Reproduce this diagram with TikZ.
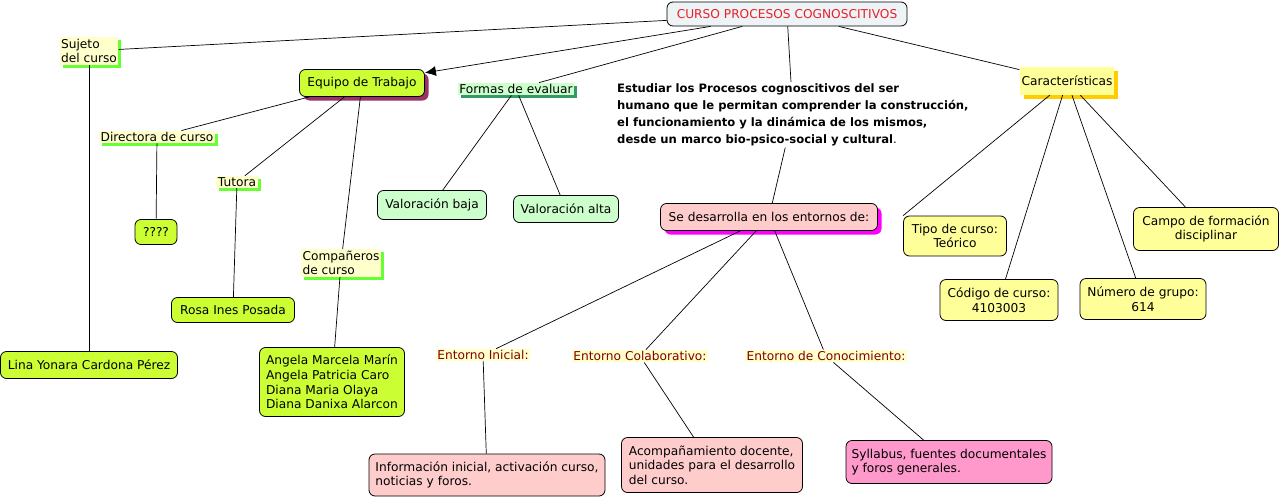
\documentclass[tikz,border=0pt]{standalone}
\usepackage{fontspec}
\setmainfont{DejaVu Sans}
\usetikzlibrary{shadows,arrows.meta}
\definecolor{lime}{HTML}{CCFF33}
\definecolor{lblfill}{HTML}{FFFFCC}
\definecolor{lgreen}{HTML}{66FF33}
\definecolor{eqshadow}{HTML}{993366}
\definecolor{palegreen}{HTML}{CCFFCC}
\definecolor{dkgreen}{HTML}{339966}
\definecolor{cursofill}{HTML}{EEF3F6}
\definecolor{cursotext}{HTML}{E8202A}
\definecolor{yel}{HTML}{FFFF99}
\definecolor{gold}{HTML}{FFCC00}
\definecolor{pink}{HTML}{FFCCCC}
\definecolor{magen}{HTML}{FF00FF}
\definecolor{hotpink}{HTML}{FF99CC}
\definecolor{brown}{HTML}{800000}
\tikzset{
  base/.style={font=\fontsize{12.2}{14.6}\selectfont, text=black},
  concept/.style={base, draw=black, line width=0.8pt, rounded corners=6pt, inner sep=3pt, align=center},
  lbl/.style={base, fill=lblfill, inner sep=1.5pt, align=left},
  gshadow/.style={drop shadow={shadow xshift=3pt, shadow yshift=-3pt, fill=lgreen, opacity=1}},
  elbl/.style={base, fill=lblfill, text=brown, inner sep=1.5pt},
  conn/.style={draw=black, line width=0.7pt},
}
\begin{document}
\begin{tikzpicture}[x=1pt,y=-1pt]
\useasboundingbox (0,0) rectangle (1282,498);
\fill[white] (0,0) rectangle (1282,498);
% nodes
\node[concept, fill=cursofill, text=cursotext, minimum width=240pt, minimum height=24pt] (curso) at (787,14) {CURSO PROCESOS COGNOSCITIVOS};
\node[lbl, gshadow] (sujeto) at (89,51) {Sujeto\\del curso};
\node[concept, fill=lime, minimum width=125pt, minimum height=27pt,
  drop shadow={shadow xshift=4pt, shadow yshift=-4pt, fill=eqshadow, opacity=1}] (equipo) at (362,83) {Equipo de Trabajo};
\node[lbl, fill=palegreen, drop shadow={shadow xshift=3pt, shadow yshift=-3pt, fill=dkgreen, opacity=1}] (formas) at (516,89) {Formas de evaluar};
\node[base, anchor=north west, align=left, inner sep=1pt, font=\fontsize{11.6}{17.3}\selectfont\bfseries] (estudiar) at (616,82)
  {Estudiar los Procesos cognoscitivos del ser\\humano que le permitan comprender la construcción,\\el funcionamiento y la dinámica de los mismos,\\desde un marco bio-psico-social y cultural{\mdseries.}};
\node[base, fill=yel, minimum width=91pt, minimum height=28pt, inner sep=2pt,
  drop shadow={shadow xshift=4pt, shadow yshift=-4pt, fill=gold, opacity=1}] (car) at (1067,81) {Características};
\node[lbl, gshadow] (directora) at (157,137) {Directora de curso};
\node[lbl, gshadow] (tutora) at (237,182) {Tutora};
\node[concept, fill=lime, minimum width=42pt, minimum height=25pt] (q) at (156,232) {????};
\node[concept, fill=palegreen, minimum width=109pt, minimum height=29pt] (valbaja) at (432,205) {Valoración baja};
\node[concept, fill=palegreen, minimum width=105pt, minimum height=27pt] (valalta) at (566,209) {Valoración alta};
\node[concept, fill=pink, minimum width=217pt, minimum height=27pt,
  drop shadow={shadow xshift=4pt, shadow yshift=-4pt, fill=magen, opacity=1}] (se) at (769,217) {Se desarrolla en los entornos de:};
\node[concept, fill=yel, minimum width=103pt, minimum height=40pt] (tipo) at (955,236) {Tipo de curso:\\Teórico};
\node[concept, fill=yel, minimum width=145pt, minimum height=43pt] (campo) at (1206,229) {Campo de formación\\disciplinar};
\node[concept, fill=yel, minimum width=118pt, minimum height=41pt] (codigo) at (999,300) {Código de curso:\\4103003};
\node[concept, fill=yel, minimum width=126pt, minimum height=41pt] (numero) at (1143,299) {Número de grupo:\\614};
\node[lbl, gshadow] (comp) at (341,263) {Compañeros\\de curso};
\node[concept, fill=lime, minimum width=123pt, minimum height=25pt] (rosa) at (233,310) {Rosa Ines Posada};
\node[concept, fill=lime, minimum width=177pt, minimum height=27pt] (lina) at (89,365) {Lina Yonara Cardona Pérez};
\node[concept, fill=lime, minimum width=145pt, minimum height=69pt, align=left] (angela) at (332,382) {Angela Marcela Marín\\Angela Patricia Caro\\Diana Maria Olaya\\Diana Danixa Alarcon};
\node[elbl] (ei) at (483,355) {Entorno Inicial:};
\node[elbl] (ec) at (640,356) {Entorno Colaborativo:};
\node[elbl] (econ) at (826,356) {Entorno de Conocimiento:};
\node[concept, fill=pink, minimum width=236pt, minimum height=42pt, align=left] (info) at (487,475) {Información inicial, activación curso,\\noticias y foros.};
\node[concept, fill=pink, minimum width=181pt, minimum height=55pt, align=left] (acomp) at (712,465) {Acompañamiento docente,\\unidades para el desarrollo\\del curso.};
\node[concept, fill=hotpink, minimum width=206pt, minimum height=43pt, align=left] (syl) at (949,462) {Syllabus, fuentes documentales\\y foros generales.};
% connectors
\draw[conn] (curso) -- (sujeto);
\draw[conn, -{Latex[length=11pt,width=10pt]}] (curso) -- (equipo);
\draw[conn] (curso) -- (formas);
\draw[conn] (curso) -- (estudiar);
\draw[conn] (curso) -- (car);
\draw[conn] (sujeto) -- (lina);
\draw[conn] (equipo) -- (directora);
\draw[conn] (equipo) -- (tutora);
\draw[conn] (equipo) -- (comp);
\draw[conn] (directora) -- (q);
\draw[conn] (tutora) -- (rosa);
\draw[conn] (comp) -- (angela);
\draw[conn] (formas) -- (valbaja);
\draw[conn] (formas) -- (valalta);
\draw[conn] (estudiar) -- (se);
\draw[conn] (se) -- (ei);
\draw[conn] (se) -- (ec);
\draw[conn] (se) -- (econ);
\draw[conn] (ei) -- (info);
\draw[conn] (ec) -- (acomp);
\draw[conn] (econ) -- (syl);
\draw[conn] (car) -- (tipo.north west);
\draw[conn] (car) -- (codigo);
\draw[conn] (car) -- (numero);
\draw[conn] (car) -- (campo);
\end{tikzpicture}
\end{document}
